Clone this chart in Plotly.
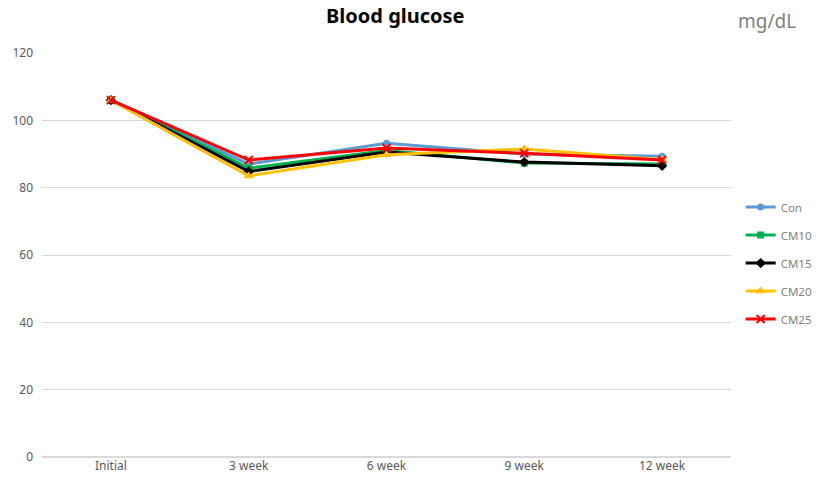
import plotly.graph_objects as go

categories = ["Initial", "3 week", "6 week", "9 week", "12 week"]
series_names = ["Con", "CM10", "CM15", "CM20", "CM25"]
con = [106, 87, 93.2, 90, 89.3]
cm10 = [106, 85.8, 91, 87.3, 87]
cm15 = [106, 84.8, 90.6, 87.6, 86.5]
cm20 = [106, 83.5, 89.8, 91.5, 88.3]
cm25 = [106, 88.2, 91.8, 90.2, 88.2]
y_ticks = [0, 20, 40, 60, 80, 100, 120]

values = [con, cm10, cm15, cm20, cm25]
colors = ["#5B9BD5", "#00B050", "#000000", "#FFC000", "#FF0000"]
symbols = ["circle", "square", "diamond", "triangle-up", "x-thin-open"]
sizes = [7, 7, 8, 9, 8]

fig = go.Figure()
for name, vals, col, sym, sz in zip(series_names, values, colors, symbols, sizes):
    marker = dict(symbol=sym, size=sz, color=col)
    if sym == "x-thin-open":
        marker = dict(symbol=sym, size=sz, color=col, line=dict(color=col, width=2))
    fig.add_trace(go.Scatter(
        x=categories, y=vals, name=name, mode="lines+markers",
        line=dict(color=col, width=3), marker=marker, legendgroup=name,
    ))

fig.update_layout(
    width=827, height=487,
    margin=dict(l=42, r=96, t=53, b=30, autoexpand=False),
    paper_bgcolor="white", plot_bgcolor="white",
    font=dict(family="Noto Sans, sans-serif", color="#595959", size=12),
    title=dict(text="<b>Blood glucose</b>", x=0.478, xanchor="center", y=0.968, yanchor="middle",
               font=dict(size=20, color="#000000", family="Noto Sans, sans-serif")),
    showlegend=True,
    legend=dict(x=1.014, xanchor="left", y=0.48, yanchor="middle",
                font=dict(size=11.5, color="#7F7F7F"), tracegroupgap=9,
                bgcolor="rgba(0,0,0,0)", itemwidth=30),
    annotations=[dict(text="mg/dL", xref="paper", yref="paper", x=1.007, y=1.08,
                      xanchor="left", yanchor="middle", showarrow=False,
                      font=dict(size=19, color="#7F7F7F"))],
)
fig.update_xaxes(type="category", range=[-0.5, 4.5], showgrid=False, showline=False,
                 ticks="", tickfont=dict(size=12, color="#595959"))
fig.update_yaxes(range=[0, 120], tickvals=y_ticks, showgrid=True, gridcolor="#D9D9D9",
                 gridwidth=1, zeroline=True, zerolinecolor="#D9D9D9", showline=False,
                 ticks="", ticklabelstandoff=8, tickfont=dict(size=12, color="#595959"))

fig.write_html("out.html")
